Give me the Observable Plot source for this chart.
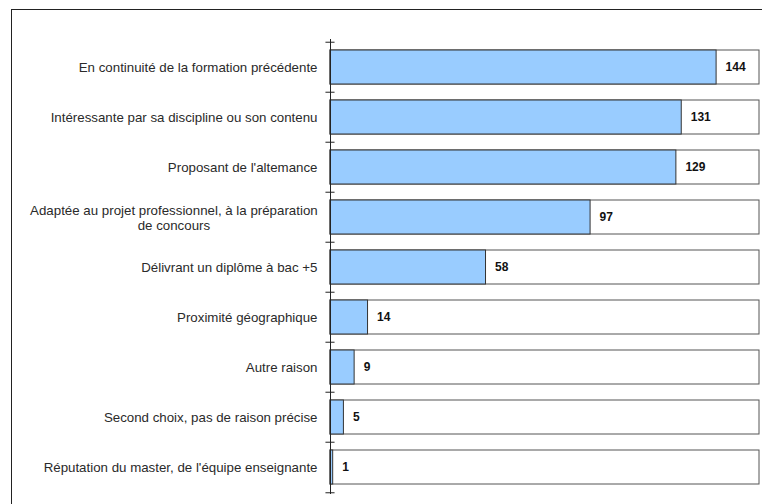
<!DOCTYPE html>
<html>
<head>
<meta charset="utf-8">
<script src="https://cdn.jsdelivr.net/npm/d3@7"></script>
<script src="https://cdn.jsdelivr.net/npm/@observablehq/plot@0.6"></script>
<style>
  html, body { margin: 0; padding: 0; background: #fff; }
  #wrap { position: relative; width: 762px; height: 504px; overflow: hidden; }
  #frame { position: absolute; left: 11px; top: 9px; width: 800px; height: 600px; border: 1px solid #222; box-sizing: border-box; pointer-events: none; }
</style>
</head>
<body>
<div id="wrap"><div id="frame"></div></div>
<script>
const categories = [
  "En continuité de la formation précédente",
  "Intéressante par sa discipline ou son contenu",
  "Proposant de l'altemance",
  "Adaptée au projet professionnel, à la préparation\nde concours",
  "Délivrant un diplôme à bac +5",
  "Proximité géographique",
  "Autre raison",
  "Second choix, pas de raison précise",
  "Réputation du master, de l'équipe enseignante"
];
const values = [144, 131, 129, 97, 58, 14, 9, 5, 1];
const axisMax = 160;

const data = categories.map((c, i) => ({category: c, value: values[i], full: axisMax}));

const W = 762, H = 504, mTop = 39, mBottom = 10, mLeft = 330, mRight = 3;
const step = (H - mTop - mBottom) / categories.length;
const font = "'Liberation Sans', Arial, sans-serif";

const plot = Plot.plot({
  width: W,
  height: H,
  marginTop: mTop,
  marginBottom: mBottom,
  marginLeft: mLeft,
  marginRight: mRight,
  style: {background: "transparent", fontFamily: font, fontSize: "13.3px", color: "#222"},
  x: {domain: [0, axisMax], axis: null},
  y: {domain: categories, paddingInner: 0.33, paddingOuter: 0.165, label: null},
  marks: [
    Plot.barX(data, {y: "category", x: "full", fill: "white", stroke: "#555", strokeWidth: 1}),
    Plot.barX(data, {y: "category", x: "value", fill: "#99ccff", stroke: "#333", strokeWidth: 1}),
    Plot.ruleX([0], {stroke: "#222"}),
    Plot.ruleY(data, {y: "category", x1: -1.7, x2: 1.7, dy: -step / 2, stroke: "#222"}),
    Plot.ruleY(data.slice(-1), {y: "category", x1: -1.7, x2: 1.7, dy: step / 2, stroke: "#222"}),
    Plot.axisY({tickSize: 0, tickPadding: 13, fontSize: 13.3, lineHeight: 1.12, fill: "#2a2a2a", label: null}),
    Plot.text(data, {y: "category", x: "value", text: d => String(d.value), dx: 9, textAnchor: "start", fontWeight: "bold", fontSize: 12, fill: "#111"})
  ]
});
plot.style.position = "absolute";
plot.style.left = "0px";
plot.style.top = "0px";
document.getElementById("wrap").appendChild(plot);

// centre the lines of multi-line category labels under each other
plot.querySelectorAll("text").forEach(t => {
  const spans = t.querySelectorAll("tspan");
  if (spans.length > 1) {
    const b = t.getBBox();
    t.setAttribute("text-anchor", "middle");
    spans.forEach(s => s.setAttribute("x", b.x + b.width / 2));
  }
});
</script>
</body>
</html>
